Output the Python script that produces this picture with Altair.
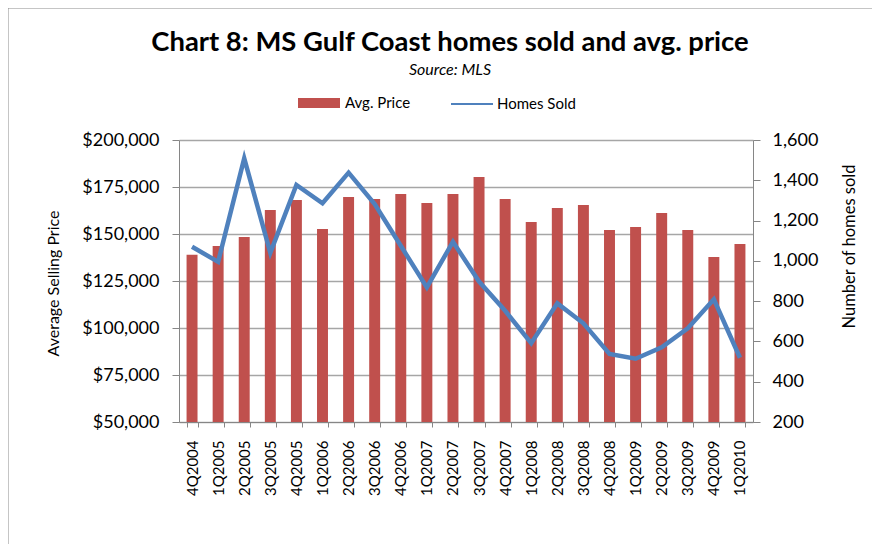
import altair as alt
import pandas as pd

quarters = ["4Q2004", "1Q2005", "2Q2005", "3Q2005", "4Q2005", "1Q2006", "2Q2006",
            "3Q2006", "4Q2006", "1Q2007", "2Q2007", "3Q2007", "4Q2007", "1Q2008",
            "2Q2008", "3Q2008", "4Q2008", "1Q2009", "2Q2009", "3Q2009", "4Q2009",
            "1Q2010"]
avg_price = [139000, 143600, 148400, 162800, 168100, 152700, 169700, 168600,
             171300, 166500, 171300, 180300, 168600, 156400, 163800, 165400,
             152100, 153700, 161200, 152100, 137800, 144700]
homes_sold = [1070, 995, 1509, 1040, 1377, 1286, 1438, 1282, 1075, 868, 1095,
              897, 752, 591, 789, 690, 538, 514, 571, 665, 809, 519]
price_ticks = [50000, 75000, 100000, 125000, 150000, 175000, 200000]
homes_ticks = [200, 400, 600, 800, 1000, 1200, 1400, 1600]

df = pd.DataFrame({"quarter": quarters, "price": avg_price, "homes": homes_sold,
                   "s1": "Avg. Price", "s2": "Homes Sold"})

FONT = "Lato"
AXIS_GRAY = "#868686"

x = alt.X("quarter:N", sort=quarters,
          scale=alt.Scale(paddingInner=0.58, paddingOuter=0.29),
          axis=alt.Axis(title=None, labelAngle=270, tickBand="extent",
                        labelFont=FONT, labelFontSize=15, labelColor="#000000",
                        domainColor=AXIS_GRAY, tickColor=AXIS_GRAY, tickSize=5,
                        labelPadding=13, grid=False, labelOverlap=False))

bars = alt.Chart(df).mark_bar().encode(
    x=x,
    y=alt.Y("price:Q", scale=alt.Scale(domain=[50000, 200000], zero=False, nice=False),
            axis=alt.Axis(title="Average Selling Price", values=price_ticks, format="$,.0f",
                          labelFont=FONT, labelFontSize=18, labelColor="#000000",
                          domainColor=AXIS_GRAY, tickColor=AXIS_GRAY, tickSize=7,
                          labelPadding=13, grid=True, gridColor="#A6A6A6", gridWidth=1.5,
                          titleFont=FONT, titleFontSize=16, titleFontWeight="normal",
                          titleColor="#000000", titleX=-126, titleY=143,
                          titleBaseline="middle", titleAngle=270)),
    y2=alt.datum(50000),
    color=alt.Color("s1:N", scale=alt.Scale(range=["#C0504D"]),
                    legend=alt.Legend(title=None, orient="none", legendX=119, legendY=-58,
                                      symbolType="M-1,-0.238H1V0.238H-1Z", symbolSize=1764,
                                      symbolStrokeWidth=0, labelFont=FONT, labelFontSize=15,
                                      labelColor="#000000", labelOffset=5)),
)

line = alt.Chart(df).mark_line(strokeWidth=4.5).encode(
    x=x,
    y=alt.Y("homes:Q", scale=alt.Scale(domain=[200, 1600], zero=False, nice=False),
            axis=alt.Axis(title="Number of homes sold", orient="right", values=homes_ticks,
                          format=",.0f", labelFont=FONT, labelFontSize=18, labelColor="#000000",
                          domainColor=AXIS_GRAY, tickColor=AXIS_GRAY, tickSize=7,
                          labelPadding=12, grid=False,
                          titleFont=FONT, titleFontSize=16.5, titleFontWeight="normal",
                          titleColor="#000000", titleX=96, titleY=106,
                          titleBaseline="middle", titleAngle=270)),
    stroke=alt.Stroke("s2:N", scale=alt.Scale(range=["#4F81BD"]),
                      legend=alt.Legend(title=None, orient="none", legendX=271, legendY=-58,
                                        symbolType="stroke", symbolSize=1764,
                                        symbolStrokeWidth=2, labelFont=FONT, labelFontSize=15,
                                        labelColor="#000000", labelOffset=3)),
)

frame = alt.Chart(alt.Data(values=[{}])).mark_rect(
    fill="transparent", stroke="#8C8C8C", strokeWidth=1
).encode(x=alt.value(-171), x2=alt.value(1000), y=alt.value(-132), y2=alt.value(800))

chart = alt.layer(frame, bars, line).resolve_scale(
    y="independent", color="independent"
).properties(
    width=574, height=282,
    padding={"left": 171, "top": 132, "right": 119, "bottom": 122},
    autosize=alt.AutoSizeParams(type="none"),
    title=alt.Title(text="Chart 8: MS Gulf Coast homes sold and avg. price",
                    subtitle="Source: MLS", font=FONT, fontSize=27.4, fontWeight="bold",
                    color="#000000", subtitleFont=FONT, subtitleFontSize=16,
                    subtitleFontStyle="italic", subtitleColor="#000000",
                    anchor="middle", frame="group", dx=-16, offset=-70,
                    subtitlePadding=5),
).configure_view(stroke="transparent")

chart.save("out.html", embed_options={"renderer": "svg", "actions": False})
